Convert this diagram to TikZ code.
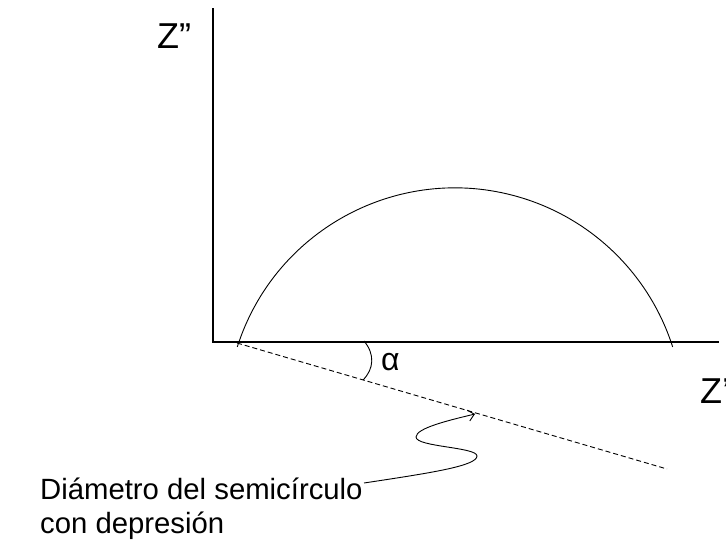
\documentclass[tikz,border=0pt]{standalone}
\usepackage{fontspec}
\setmainfont{Liberation Sans}
\usetikzlibrary{calc,arrows.meta}

\begin{document}
\begin{tikzpicture}[x=1pt,y=-1pt,
  axis/.style={line width=1.1pt},
  curve/.style={line width=0.9pt},
  axlabel/.style={font=\fontsize{36}{40}\selectfont,anchor=base west,inner sep=0pt},
  note/.style={font=\fontsize{29.3}{34}\selectfont,anchor=base west,inner sep=0pt}]
\useasboundingbox (0,0) rectangle (726,544);
% axes
\coordinate (O) at (213,342); \coordinate (ytop) at (213,8); \coordinate (xend) at (719,342);
\draw[axis] (ytop)--(O)--(xend);
\node[axlabel] (zim) at (157,48) {Z”};
\node[axlabel] (zre) at (700,403) {Z’};
% depressed semicircle
\draw[curve] (237.3,346.9) arc[start angle=197.7,end angle=342.3,radius=228.5];
\coordinate (dstart) at (237,343); \coordinate (dend) at (667,469);
\draw[curve,dash pattern=on 5pt off 3pt] (dstart)--(dend);
% angle
\draw[curve] (364,341) .. controls (375,354) and (374,369) .. (363,380);
\node[note,font=\fontsize{32}{34}\selectfont] (alpha) at (381,370) {α};
% label
\node[note] (desc1) at (40,499) {Diámetro del semicírculo};
\node[note] (desc2) at (40,533) {con depresión};
\coordinate (tail) at (364,483); \coordinate (tip) at (475,414);
\draw[curve,-{Straight Barb[length=6pt,width=11pt]}] (tail) .. controls (430,473) and (477,466) .. (477,456)
  .. controls (477,447) and (416,447) .. (416,437) .. controls (416,428) and (450,420) .. (tip);
\end{tikzpicture}
\end{document}
